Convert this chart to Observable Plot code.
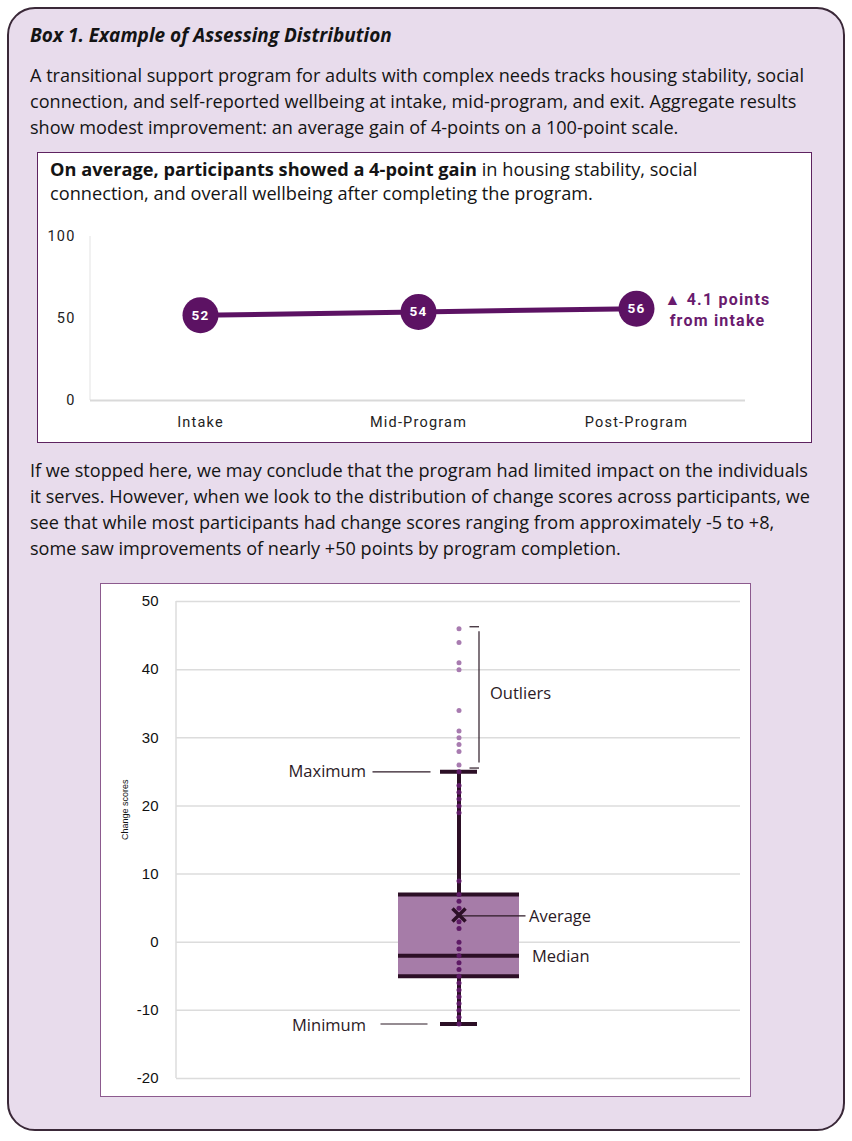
<!DOCTYPE html>
<html>
<head>
<meta charset="utf-8">
<script src="https://cdn.jsdelivr.net/npm/d3@7"></script>
<script src="https://cdn.jsdelivr.net/npm/@observablehq/plot@0.6"></script>
<style>
  html, body { margin: 0; padding: 0; background: #ffffff; }
  #page { position: relative; width: 852px; height: 1141px; font-family: "Open Sans", "Noto Sans", sans-serif; color: #141414; }
  #outer { position: absolute; left: 7px; top: 7px; width: 838px; height: 1124px; box-sizing: border-box;
           border: 2px solid #3a2838; border-radius: 28px; background: #e8dcec; }
  .abs { position: absolute; }
  #title { left: 30px; top: 22px; font-size: 19px; line-height: 26px; font-weight: 700; font-style: italic; white-space: nowrap; }
  .para { font-size: 18.1px; line-height: 26px; white-space: nowrap; }
  #p1 { left: 30px; top: 62px; }
  #p2 { left: 30px; top: 457px; }
  #box1 { left: 37px; top: 152px; width: 775px; height: 291px; box-sizing: border-box; background: #fff; border: 1.5px solid #5e2360; }
  #box2 { left: 100px; top: 583px; width: 651px; height: 514px; box-sizing: border-box; background: #fff; border: 1.5px solid #8c5a8e; }
  #ctitle { left: 50px; top: 157px; font-size: 18.2px; line-height: 24px; white-space: nowrap; }
  #ctitle b { font-weight: 700; }
  #chart1 { left: 37px; top: 220px; }
  #chart2 { left: 101px; top: 584px; }
</style>
</head>
<body>
<div id="page">
  <div id="outer"></div>
  <div id="title" class="abs">Box 1. Example of Assessing Distribution</div>
  <div id="p1" class="abs para">A transitional support program for adults with complex needs tracks housing stability, social<br>connection, and self-reported wellbeing at intake, mid-program, and exit. Aggregate results<br>show modest improvement: an average gain of 4-points on a 100-point scale.</div>
  <div id="box1" class="abs"></div>
  <div id="ctitle" class="abs"><b>On average, participants showed a 4-point gain</b> in housing stability, social<br>connection, and overall wellbeing after completing the program.</div>
  <div id="chart1" class="abs"></div>
  <div id="p2" class="abs para">If we stopped here, we may conclude that the program had limited impact on the individuals<br>it serves. However, when we look to the distribution of change scores across participants, we<br>see that while most participants had change scores ranging from approximately -5 to +8,<br>some saw improvements of nearly +50 points by program completion.</div>
  <div id="box2" class="abs"></div>
  <div id="chart2" class="abs"></div>
</div>
<script>
// ---------- Data: line chart ----------
const stages = ["Intake", "Mid-Program", "Post-Program"];
const avgScores = [52, 54, 56];
const gainFromIntake = [4.1];
const lineTicks = [0, 50, 100];

// ---------- Data: box plot of change scores ----------
const groupName = ["Change scores"];
const inlierScores = [-12, -11, -10, -9, -8, -7, -6, -5, -4, -3, -2, -1, 0, 2, 3, 4, 5, 6, 7, 9, 19, 20, 21, 22, 23, 25];
const outlierScores = [26, 28, 29, 30, 31, 34, 40, 41, 44, 46];
const statNames = ["min", "q1", "median", "q3", "max", "mean"];
const statValues = [-12, -5, -2, 7, 25, 4];
const boxTicks = [-20, -10, 0, 10, 20, 30, 40, 50];

const purple = "#5c1263";
const dark = "#2c0f26";

// left axis line drawn at the frame's left edge
function leftAxisLine(color, width) {
  return (index, scales, values, dims) => {
    const l = document.createElementNS("http://www.w3.org/2000/svg", "line");
    l.setAttribute("x1", dims.marginLeft);
    l.setAttribute("x2", dims.marginLeft);
    l.setAttribute("y1", dims.marginTop);
    l.setAttribute("y2", dims.height - dims.marginBottom);
    l.setAttribute("stroke", color);
    l.setAttribute("stroke-width", width);
    return l;
  };
}

// ---------- Line chart ----------
const lineData = stages.map((s, i) => ({stage: s, score: avgScores[i]}));
const chart1 = Plot.plot({
  width: 775, height: 220,
  marginLeft: 53, marginRight: 67, marginTop: 16, marginBottom: 40,
  style: {fontFamily: "Roboto, sans-serif", fontSize: "14.5px", color: "#222", background: "transparent", overflow: "visible", letterSpacing: "1.2px"},
  x: {type: "band", domain: stages, padding: 0, label: null, tickSize: 0, tickPadding: 16},
  y: {domain: [0, 100], ticks: lineTicks, label: null, tickSize: 0, tickPadding: 15},
  marks: [
    leftAxisLine("#ececec", 1.5),
    Plot.ruleY([0], {stroke: "#d9d9d9", strokeWidth: 2}),
    Plot.line(lineData, {x: "stage", y: "score", stroke: purple, strokeWidth: 5}),
    Plot.dot(lineData, {x: "stage", y: "score", r: 18, fill: purple, stroke: null}),
    Plot.text(lineData, {x: "stage", y: "score", text: d => String(d.score), fill: "white", fontWeight: "bold", fontSize: 13.5, letterSpacing: 0}),
    Plot.text(lineData.slice(-1), {x: "stage", y: "score", text: () => `▲ ${gainFromIntake[0]} points\nfrom intake`, dx: 81, dy: 0, fill: "#6a1b6e", fontWeight: "bold", fontSize: 16, lineHeight: 1.35, letterSpacing: "0.3px"})
  ]
});
document.getElementById("chart1").appendChild(chart1);

// ---------- Box plot ----------
const grp = groupName[0];
const stat = Object.fromEntries(statNames.map((k, i) => [k, statValues[i]]));
const gx = () => grp;
const outMin = d3.min(outlierScores), outMax = d3.max(outlierScores);
const annFont = {fontFamily: "'Open Sans', sans-serif", fontSize: 16.5, fill: "#2c1a26"};

const chart2 = Plot.plot({
  width: 649, height: 512,
  marginLeft: 75, marginRight: 10, marginTop: 17, marginBottom: 18,
  style: {fontFamily: "'Liberation Sans', Arial, sans-serif", fontSize: "15px", color: "#111", background: "transparent", overflow: "visible"},
  x: {type: "band", domain: groupName, padding: 0.647, axis: null},
  y: {domain: [-20, 50], ticks: boxTicks, tickFormat: d => String(d), label: null, tickSize: 0, tickPadding: 18},
  marks: [
    Plot.ruleY(boxTicks, {stroke: "#dcdcdc", strokeWidth: 1.5}),
    leftAxisLine("#dcdcdc", 1.5),
    Plot.text(groupName, {frameAnchor: "left", text: d => d, rotate: -90, dx: -51, fontSize: 9, fill: "#111"}),
    // whiskers
    Plot.ruleX([stat], {x: gx, y1: "q3", y2: "max", stroke: dark, strokeWidth: 4}),
    Plot.ruleX([stat], {x: gx, y1: "min", y2: "q1", stroke: dark, strokeWidth: 4}),
    // box
    Plot.barY([stat], {x: gx, y1: "q1", y2: "q3", fill: "#a67ca8"}),
    Plot.tickY([stat.q1, stat.median, stat.q3], {x: gx, y: d => d, stroke: dark, strokeWidth: 4}),
    // caps
    Plot.tickY([stat.min, stat.max], {x: gx, y: d => d, stroke: dark, strokeWidth: 4, insetLeft: 42, insetRight: 42}),
    // points
    Plot.dot(inlierScores, {x: gx, y: d => d, r: 2.5, fill: "#5e1a66", stroke: null}),
    Plot.dot(outlierScores, {x: gx, y: d => d, r: 2.5, fill: "#a87bb0", stroke: null}),
    // mean
    Plot.dot([stat], {x: gx, y: "mean", symbol: "times", r: 6, stroke: dark, strokeWidth: 3.5}),
    // annotations
    Plot.text([stat], {x: gx, y: "max", text: () => "Maximum", textAnchor: "end", dx: -93, ...annFont}),
    Plot.tickY([stat], {x: gx, y: "max", dx: -86, insetLeft: 60.5, insetRight: 2.5, stroke: "#2c1a26", strokeWidth: 1.2}),
    Plot.text([stat], {x: gx, y: "min", text: () => "Minimum", textAnchor: "end", dx: -93, dy: 2, ...annFont}),
    Plot.tickY([stat], {x: gx, y: "min", dx: -86, insetLeft: 68.5, insetRight: 5.5, stroke: "#2c1a26", strokeWidth: 1.2}),
    Plot.text([(outMin + outMax) / 2], {x: gx, y: d => d, text: () => "Outliers", textAnchor: "start", dx: 31, dy: -3, ...annFont}),
    Plot.ruleX([grp], {x: d => d, y1: outMin, y2: outMax, dx: 20, insetTop: -2, insetBottom: -3, stroke: "#2c1a26", strokeWidth: 1.2}),
    Plot.tickY([outMax], {x: gx, y: d => d, dy: -2, insetLeft: 71.5, insetRight: 40, stroke: "#2c1a26", strokeWidth: 1.2}),
    Plot.tickY([outMin], {x: gx, y: d => d, dy: 3, insetLeft: 71.5, insetRight: 40, stroke: "#2c1a26", strokeWidth: 1.2}),
    Plot.text([stat], {x: gx, y: "mean", text: () => "Average", textAnchor: "start", dx: 70, dy: 2, ...annFont}),
    Plot.tickY([stat], {x: gx, y: "mean", dy: 1, insetLeft: 62.5, insetRight: -6.5, stroke: "#2c1a26", strokeWidth: 1.2}),
    Plot.text([stat], {x: gx, y: "median", text: () => "Median", textAnchor: "start", dx: 73, dy: 1, ...annFont})
  ]
});
document.getElementById("chart2").appendChild(chart2);
</script>
</body>
</html>
